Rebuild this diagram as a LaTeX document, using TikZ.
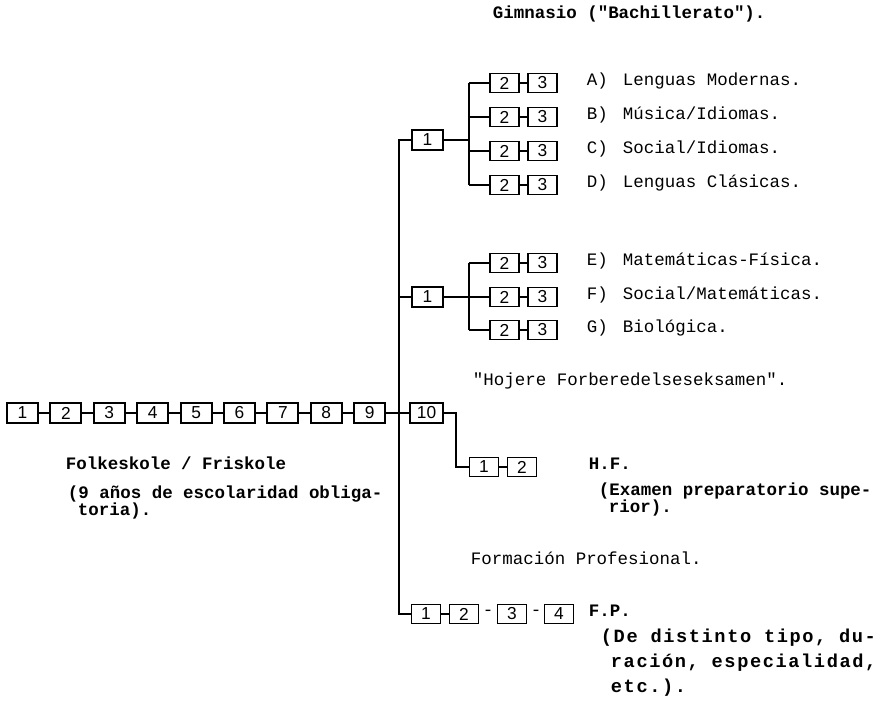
\documentclass[tikz,border=0pt]{standalone}
\usepackage{fontspec}
\newfontfamily\tw{Liberation Mono}
\newfontfamily\twls[LetterSpace=8.5]{Liberation Mono}
\newfontfamily\dg{Liberation Sans}
\begin{document}
\begin{tikzpicture}[x=0.75pt,y=-0.75pt, line width=1.45pt,
  bx/.style={draw, line width=1.45pt, minimum width=23.25pt, minimum height=15pt, inner sep=0pt, font=\dg\fontsize{13}{13}\selectfont},
  sb/.style={bx, minimum width=21.75pt, minimum height=14.25pt},
  tx/.style={anchor=mid west, inner sep=0pt, font=\tw\fontsize{13.1}{14}\selectfont},
  tb/.style={anchor=mid west, inner sep=0pt, font=\tw\bfseries\fontsize{13.1}{14}\selectfont},
  tbig/.style={anchor=mid west, inner sep=0pt, font=\twls\bfseries\fontsize{14}{15}\selectfont}]
\useasboundingbox (0,0) rectangle (896,712);
% main row
\foreach \i in {1,...,9} \node[bx] (m\i) at ({22.5+43.4*(\i-1)},413) {\i};
\foreach \i [evaluate=\i as \j using int(\i+1)] in {1,...,8} \draw (m\i) -- (m\j);
\node[bx, minimum width=24.75pt] (m10) at (426.5,413) {10};
\draw (m9) -- (m10);
% trunk
\node[bx] (grp1) at (427.5,140) {1};
\node[bx] (grp2) at (427.5,297) {1};
\node[sb] (fp1) at (426,614) {1};
\coordinate (tt) at (399,140);
\coordinate (tb) at (399,614);
\draw (grp1.west) -- (tt) -- (tb) -- (fp1.west);
\draw (grp2.west) -- (grp2.west -| tt);
% group 1
\coordinate (br1) at (469,140);
\foreach \r/\y in {a/83,b/117,c/151,d/185}{
  \node[sb] (\r2) at (504.5,\y) {2};
  \node[sb] (\r3) at (542.5,\y) {3};
  \draw (\r2) -- (\r3);
  \draw (\r2.west) -- (\r2.west -| br1);
}
\draw (grp1.east) -- (br1);
\draw (a2.west -| br1) -- (d2.west -| br1);
% group 2
\coordinate (br2) at (469,297);
\foreach \r/\y in {e/263,f/297,g/330}{
  \node[sb] (\r2) at (504.5,\y) {2};
  \node[sb] (\r3) at (542.5,\y) {3};
  \draw (\r2) -- (\r3);
  \draw (\r2.west) -- (\r2.west -| br2);
}
\draw (grp2.east) -- (br2);
\draw (e2.west -| br2) -- (g2.west -| br2);
% labels
\node[tb] (head) at (492,16) {Gimnasio ("Bachillerato").};
\node[tx] (la) at (586,83) {A)};  \node[tx] (na) at (622,83) {Lenguas Modernas.};
\node[tx] (lb) at (586,117) {B)}; \node[tx] (nb) at (622,117) {Música/Idiomas.};
\node[tx] (lc) at (586,151) {C)}; \node[tx] (nc) at (622,151) {Social/Idiomas.};
\node[tx] (ld) at (586,185) {D)}; \node[tx] (nd) at (622,185) {Lenguas Clásicas.};
\node[tx] (le) at (586,263) {E)}; \node[tx] (ne) at (622,263) {Matemáticas-Física.};
\node[tx] (lf) at (586,297) {F)}; \node[tx] (nf) at (622,297) {Social/Matemáticas.};
\node[tx] (lg) at (586,330) {G)}; \node[tx] (ng) at (622,330) {Biológica.};
\node[tx] (hoj) at (472,383) {"Hojere Forberedelseseksamen".};
% H.F.
\coordinate (c10) at (456,413);
\node[sb] (hf1) at (484,467) {1};
\node[sb] (hf2) at (522,467) {2};
\draw (m10.east) -- (c10) |- (hf1.west);
\draw (hf1) -- (hf2);
\node[tb] (hf) at (588,467) {H.F.};
\node[tb] (hfa) at (598,493) {(Examen preparatorio supe-};
\node[tb] (hfb) at (608,510) {rior).};
% Folkeskole
\node[tb] (fk) at (65,467) {Folkeskole / Friskole};
\node[tb] (fka) at (67,496) {(9 años de escolaridad obliga-};
\node[tb] (fkb) at (77,513) {toria).};
% F.P.
\node[tx] (fpt) at (470,562) {Formación Profesional.};
\node[sb] (fp2) at (464,614) {2};
\node[tx, anchor=center] (d1) at (488,613) {-};
\node[sb] (fp3) at (512,614) {3};
\node[tx, anchor=center] (d2) at (536,613) {-};
\node[sb] (fp4) at (559,614) {4};
\draw (fp1) -- (fp2);
\node[tb] (fp) at (588,614) {F.P.};
\node[tbig] (fpa) at (600,640) {(De distinto tipo, du-};
\node[tbig] (fpb) at (610,665) {ración, especialidad,};
\node[tbig] (fpc) at (610,690) {etc.).};
\end{tikzpicture}
\end{document}
